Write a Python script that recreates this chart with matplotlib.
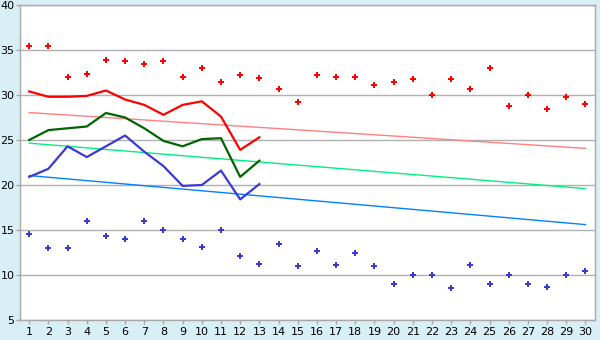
import matplotlib.pyplot as plt

days = list(range(1, 31))

# daily max / min (scatter)
hi_pts = [35.4, 35.4, 32.0, 32.3, 33.9, 33.8, 33.4, 33.8, 32.0, 33.0,
          31.5, 32.2, 31.9, 30.7, 29.2, 32.2, 32.0, 32.0, 31.1, 31.4,
          31.8, 30.0, 31.8, 30.7, 33.0, 28.8, 30.0, 28.5, 29.8, 29.0]
lo_pts = [14.6, 13.0, 13.0, 16.0, 14.3, 14.0, 16.0, 15.0, 14.0, 13.1,
          15.0, 12.1, 11.2, 13.4, 11.0, 12.7, 11.1, 12.5, 11.0, 9.0,
          10.0, 10.0, 8.6, 11.1, 9.0, 10.0, 9.0, 8.7, 10.0, 10.4]

# observed lines, days 1-13
obs_days = list(range(1, 14))
hi_line = [30.4, 29.8, 29.8, 29.9, 30.5, 29.5, 28.9, 27.8, 28.9, 29.3, 27.6, 23.9, 25.3]
mid_line = [25.0, 26.1, 26.3, 26.5, 28.0, 27.5, 26.3, 24.9, 24.3, 25.1, 25.2, 20.9, 22.7]
lo_line = [20.9, 21.8, 24.3, 23.1, 24.3, 25.5, 23.7, 22.1, 19.9, 20.0, 21.6, 18.4, 20.1]

# trend lines: value at day 1 and day 30
trend_days = [1, 30]
hi_trend = [28.05, 24.07]
mid_trend = [24.65, 19.6]
lo_trend = [21.05, 15.6]

bg = '#d9eff6'
fig = plt.figure(figsize=(6, 3.4), dpi=100, facecolor=bg)
ax = fig.add_axes([20 / 600, 20 / 340, 575 / 600, 315 / 340])
ax.set_facecolor('white')

ax.set_xlim(0.52, 30.5)
ax.set_ylim(5, 40)
ax.set_yticks(range(5, 41, 5))
ax.set_xticks(days)
ax.grid(axis='y', color='#b0b0b0', linewidth=1)
ax.set_axisbelow(True)
for s in ax.spines.values():
    s.set_color('#a8a8a8')
    s.set_linewidth(1)
ax.tick_params(colors='#a8a8a8', labelcolor='black', labelsize=8, length=3, width=1)
ax.tick_params(axis='y', pad=1)
ax.tick_params(axis='x', pad=2)

ax.plot(trend_days, hi_trend, color='#ff8080', lw=1)
ax.plot(trend_days, mid_trend, color='#00f080', lw=1)
ax.plot(trend_days, lo_trend, color='#0080ff', lw=1)

ax.plot(obs_days, hi_line, color='#ff0000', lw=1.6)
ax.plot(obs_days, mid_line, color='#006400', lw=1.6)
ax.plot(obs_days, lo_line, color='#3a3ad0', lw=1.6)

ax.plot(days, hi_pts, ls='none', marker='P', ms=5, color='#ff0000', mew=0)
ax.plot(days, lo_pts, ls='none', marker='P', ms=5, color='#3a3ad0', mew=0)

fig.savefig('out.png', dpi=100, facecolor=bg)
